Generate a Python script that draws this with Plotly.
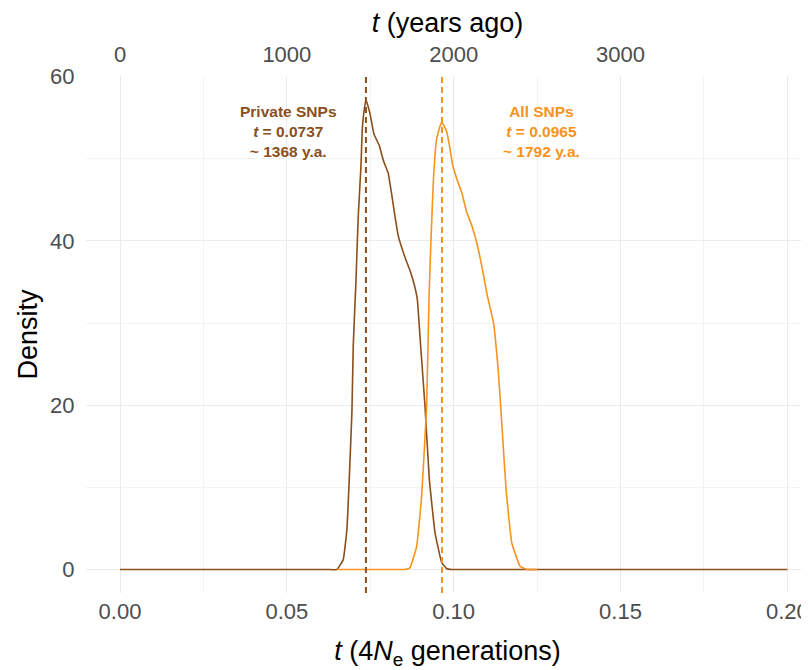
import plotly.graph_objects as go

# ---- data ----
private_t = [0.0, 0.02, 0.04, 0.055, 0.062, 0.0650, 0.0669, 0.0680, 0.0687, 0.0695, 0.0699,
             0.0707, 0.0714, 0.0722, 0.0726, 0.0729, 0.0737, 0.0749, 0.0761, 0.0777, 0.0789,
             0.0804, 0.0814, 0.0824, 0.0834, 0.0854, 0.0869, 0.0881, 0.0891, 0.0901, 0.0914,
             0.0927, 0.0944, 0.0964, 0.0979, 0.0995, 0.103, 0.12, 0.15, 0.18, 0.2]
private_d = [0, 0, 0, 0, 0, 0, 1.2, 4.9, 11, 19.1, 27.2,
             35, 43, 49, 53.5, 55, 57.2, 55.5, 53, 51.6, 49.8,
             48.2, 45.7, 43, 40.6, 38, 36.4, 34.8, 32.9, 27.2, 19.9,
             11, 4.5, 0.85, 0.1, 0, 0, 0, 0, 0, 0]

all_t = [0.0650, 0.075, 0.082, 0.0854, 0.0869, 0.0889, 0.0904, 0.0919, 0.0926, 0.0931, 0.0939,
         0.0949, 0.0964, 0.0979, 0.0989, 0.0997, 0.1009, 0.1024, 0.1039, 0.1054, 0.1069,
         0.1084, 0.1101, 0.1119, 0.1134, 0.1144, 0.1157, 0.1174, 0.1199, 0.1219, 0.125]
all_d = [0, 0, 0, 0, 0.2, 2.8, 8.9, 19.9, 32.9, 39, 47.2,
         52.4, 54.5, 53.3, 51.2, 49.2, 47.6, 45.9, 43.5, 41.9, 39.8,
         37, 33.3, 30.1, 24, 17.9, 9.8, 3.25, 0.4, 0, 0]

private_mode_t = 0.0737
all_mode_t = 0.0965
private_label = ["Private SNPs", "<i>t</i> = 0.0737", "~ 1368 y.a."]
all_label = ["All SNPs", "<i>t</i> = 0.0965", "~ 1792 y.a."]

x_ticks = [0.0, 0.05, 0.10, 0.15, 0.20]
x_ticktext = ["0.00", "0.05", "0.10", "0.15", "0.20"]
x_minor = [0.025, 0.075, 0.125, 0.175]
y_ticks = [0, 20, 40, 60]
y_minor = [10, 30, 50]
years_ticks = [0, 1000, 2000, 3000]
years_per_unit = 20000

BROWN = "#8B4F1D"
ORANGE = "#F7931E"
FONT = "Liberation Sans, Arial, Helvetica, sans-serif"

x_range = [-0.0102, 0.2065]
y_range = [-2.86, 60.06]

fig = go.Figure()
fig.add_trace(go.Scatter(x=private_t, y=private_d, mode="lines",
                         line=dict(color=BROWN, width=1.6, shape="spline", smoothing=0.3),
                         hoverinfo="skip"))
fig.add_trace(go.Scatter(x=all_t, y=all_d, mode="lines",
                         line=dict(color=ORANGE, width=1.6, shape="spline", smoothing=0.3),
                         hoverinfo="skip"))
# invisible trace for the secondary (top) axis
fig.add_trace(go.Scatter(x=[v * years_per_unit for v in x_range], y=[0, 0], xaxis="x2",
                         mode="lines", line=dict(width=0), opacity=0, hoverinfo="skip"))

for xv, col in [(private_mode_t, BROWN), (all_mode_t, ORANGE)]:
    fig.add_shape(type="line", xref="x", yref="paper", x0=xv, x1=xv, y0=0, y1=1,
                  line=dict(color=col, width=2, dash="6px,4px"))

fig.add_annotation(x=0.0505, y=53.3, xref="x", yref="y", text="<br>".join(private_label),
                   showarrow=False, align="center", yanchor="middle",
                   font=dict(family=FONT, size=15.5, color=BROWN, weight="bold"))
fig.add_annotation(x=0.1262, y=53.3, xref="x", yref="y", text="<br>".join(all_label),
                   showarrow=False, align="center", yanchor="middle",
                   font=dict(family=FONT, size=15.5, color=ORANGE, weight="bold"))

grid_major = "#EBEBEB"
grid_minor = "#F3F3F3"
tickfont = dict(family=FONT, size=22, color="#4D4D4D")

# the page body adds an 8px offset, so the figure is 801x662 to fill the window
fig.update_layout(
    width=801, height=662,
    margin=dict(l=78, r=0, t=68, b=77),
    plot_bgcolor="white", paper_bgcolor="white",
    showlegend=False,
    font=dict(family=FONT),
    xaxis=dict(range=x_range, tickvals=x_ticks, ticktext=x_ticktext, automargin=False,
               showgrid=True, gridcolor=grid_major, gridwidth=1.3,
               minor=dict(tickvals=x_minor, showgrid=True, gridcolor=grid_minor, gridwidth=0.8),
               zeroline=False, showline=False,
               ticks="",
               tickfont=tickfont,
               title=dict(text="<i>t</i> (4<i>N</i><sub>e</sub> generations)",
                          font=dict(family=FONT, size=27, color="black"), standoff=19)),
    xaxis2=dict(range=[v * years_per_unit for v in x_range], overlaying="x", side="top",
                tickvals=years_ticks, ticktext=[str(v) for v in years_ticks], automargin=False,
                showgrid=False, zeroline=False, showline=False,
                ticks="outside", ticklen=4, tickcolor="rgba(0,0,0,0)",
                tickfont=tickfont,
                title=dict(text="<i>t</i> (years ago)",
                           font=dict(family=FONT, size=27, color="black"), standoff=5)),
    yaxis=dict(range=y_range, tickvals=y_ticks, automargin=False,
               showgrid=True, gridcolor=grid_major, gridwidth=1.3,
               minor=dict(tickvals=y_minor, showgrid=True, gridcolor=grid_minor, gridwidth=0.8),
               zeroline=False, showline=False,
               ticks="outside", ticklen=6, tickcolor="rgba(0,0,0,0)",
               tickfont=tickfont,
               title=dict(text="Density", font=dict(family=FONT, size=27, color="black"),
                          standoff=4)),
)

try:
    fig.layout.xaxis.ticklabelstandoff = 3
except Exception:
    pass

fig.write_html("out.html")
